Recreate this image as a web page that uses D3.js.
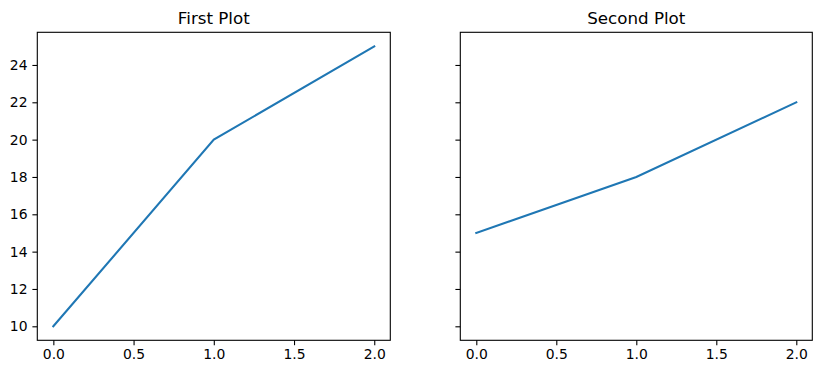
<!DOCTYPE html>
<html>
<head>
<meta charset="utf-8">
<script src="https://cdn.jsdelivr.net/npm/d3@7"></script>
<style>
  body { margin: 0; background: #fff; }
  text { font-family: "DejaVu Sans", sans-serif; fill: #000; }
  .tick text { font-size: 13.9px; }
  .tick line { stroke: #000; stroke-width: 1.1; }
  .domain { display: none; }
</style>
</head>
<body>
<script>
// data
var xValues = [0, 1, 2];
var firstValues = [10, 20, 25];
var secondValues = [15, 18, 22];
var titles = ['First Plot', 'Second Plot'];
var xTicks = [0, 0.5, 1, 1.5, 2];
var yTicks = [10, 12, 14, 16, 18, 20, 22, 24];

var w = 822, h = 374;
var svg = d3.select('body').append('svg')
  .attr('width', w)
  .attr('height', h);

// shared y scale (sharey)
var top0 = 32.3, bottom0 = 340.3;
var y = d3.scale ? null : null;
y = d3.scaleLinear().domain([9.25, 25.75]).range([bottom0, top0]);

var panels = [
  { left: 37.3, right: 390.3, values: firstValues, title: titles[0], labels: true },
  { left: 460.3, right: 812.3, values: secondValues, title: titles[1], labels: false }
];

panels.forEach(function(p) {
  var x = d3.scaleLinear().domain([-0.1, 2.1]).range([p.left, p.right]);
  var g = svg.append('g');

  // x axis
  g.append('g')
    .attr('transform', 'translate(0,' + bottom0 + ')')
    .call(d3.axisBottom(x).tickValues(xTicks).tickSize(4.9).tickPadding(4.4)
      .tickFormat(d3.format('.1f')));

  // y axis
  g.append('g')
    .attr('transform', 'translate(' + p.left + ',0)')
    .call(d3.axisLeft(y).tickValues(yTicks).tickSize(4.9).tickPadding(4.9)
      .tickFormat(p.labels ? d3.format('d') : function() { return ''; }));

  // line
  var line = d3.line()
    .x(function(d, i) { return x(xValues[i]); })
    .y(function(d) { return y(d); });

  g.append('path')
    .datum(p.values)
    .attr('d', line)
    .attr('fill', 'none')
    .attr('stroke', '#1f77b4')
    .attr('stroke-width', 2.08)
    .attr('stroke-linecap', 'square');

  // frame
  g.append('rect')
    .attr('x', p.left)
    .attr('y', top0)
    .attr('width', p.right - p.left)
    .attr('height', bottom0 - top0)
    .attr('fill', 'none')
    .attr('stroke', '#000')
    .attr('stroke-width', 1.1);

  // title
  g.append('text')
    .attr('x', (p.left + p.right) / 2)
    .attr('y', top0 - 8.3)
    .attr('text-anchor', 'middle')
    .style('font-size', '16.7px')
    .text(p.title);
});
</script>
</body>
</html>
